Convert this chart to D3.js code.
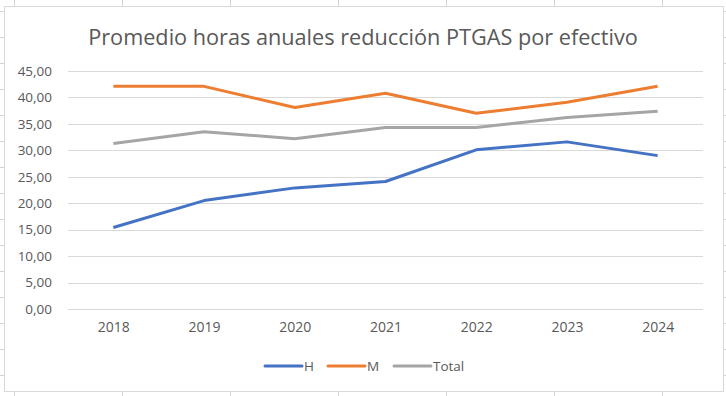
<!DOCTYPE html>
<html lang="es">
<head>
<meta charset="UTF-8">
<title>Promedio horas anuales reducción PTGAS por efectivo</title>
<script src="https://d3js.org/d3.v7.min.js"></script>
<style>
  body { margin: 0; padding: 0; background: #fff; }
  svg { display: block; font-family: "Open Sans", "Noto Sans", sans-serif; }
</style>
</head>
<body>
<svg id="chart" width="726" height="396"></svg>
<script>
  // data
  const years = ["2018", "2019", "2020", "2021", "2022", "2023", "2024"];
  const hValues = [15.4, 20.5, 22.9, 24.1, 30.1, 31.6, 29.0];
  const mValues = [42.1, 42.1, 38.1, 40.8, 37.0, 39.1, 42.1];
  const totalValues = [31.3, 33.5, 32.2, 34.3, 34.3, 36.2, 37.4];
  const yTicks = [0, 5, 10, 15, 20, 25, 30, 35, 40, 45];
  const seriesNames = ["H", "M", "Total"];
  const colors = ["#4472C4", "#ED7D31", "#A5A5A5"];

  const series = [hValues, mValues, totalValues].map((v, i) => ({ name: seriesNames[i], values: v, color: colors[i] }));

  const font = '"Open Sans", "Noto Sans", sans-serif';
  const textColor = "#595959";

  const svg = d3.select("#chart");

  // spreadsheet cells behind the chart
  const sheet = svg.append("g").attr("stroke", "#d4d4d4").attr("stroke-width", 1);
  sheet.selectAll("line.col")
    .data(d3.range(14.5, 726, 108))
    .join("line")
    .attr("x1", d => d).attr("x2", d => d)
    .attr("y1", 0).attr("y2", 396);
  sheet.selectAll("line.row")
    .data(d3.range(11.5, 396, 26))
    .join("line")
    .attr("x1", 0).attr("x2", 726)
    .attr("y1", d => d).attr("y2", d => d);

  // chart area
  svg.append("rect")
    .attr("x", 4.5).attr("y", 6.5)
    .attr("width", 719).attr("height", 385)
    .attr("fill", "#fff")
    .attr("stroke", "#d9d9d9");

  const plot = { left: 68, right: 703, top: 71, bottom: 309 };

  const x = d3.scalePoint()
    .domain(years)
    .range([plot.left, plot.right])
    .padding(0.5);

  const y = d3.scaleLinear()
    .domain([0, 45])
    .range([plot.bottom, plot.top]);

  // gridlines + y labels
  const yAxis = svg.append("g")
    .attr("transform", `translate(${plot.left},0)`)
    .call(d3.axisLeft(y)
      .tickValues(yTicks)
      .tickSize(-(plot.right - plot.left))
      .tickPadding(16)
      .tickFormat(d => d3.format(".2f")(d).replace(".", ",")))
    .attr("font-family", font)
    .attr("font-size", 13.5);
  yAxis.select(".domain").remove();
  yAxis.selectAll(".tick line").attr("stroke", "#d9d9d9").attr("shape-rendering", "crispEdges");
  yAxis.selectAll(".tick text").attr("fill", textColor);

  // x labels
  const xAxis = svg.append("g")
    .attr("transform", `translate(0,${plot.bottom})`)
    .call(d3.axisBottom(x).tickSize(0).tickPadding(13))
    .attr("font-family", font)
    .attr("font-size", 14);
  xAxis.select(".domain").remove();
  xAxis.selectAll(".tick text").attr("fill", textColor);

  // lines
  const line = d3.line()
    .x((d, i) => x(years[i]))
    .y(d => y(d));

  svg.append("g")
    .selectAll("path")
    .data(series)
    .join("path")
    .attr("fill", "none")
    .attr("stroke", d => d.color)
    .attr("stroke-width", 3)
    .attr("stroke-linejoin", "round")
    .attr("d", d => line(d.values));

  // title, fitted to the width it has in the picture
  const title = svg.append("text")
    .attr("x", 363)
    .attr("y", 45)
    .attr("text-anchor", "middle")
    .attr("fill", textColor)
    .style("font-size", "20px")
    .text("Promedio horas anuales reducción PTGAS por efectivo");
  const tw = title.node().getComputedTextLength();
  title.style("font-size", (20 * 550 / tw) + "px");

  // legend
  const legendX = [265, 328, 394];
  const legend = svg.append("g")
    .selectAll("g")
    .data(series)
    .join("g")
    .attr("transform", (d, i) => `translate(${legendX[i]},366)`);
  legend.append("line")
    .attr("x1", 0).attr("x2", 37)
    .attr("stroke", d => d.color)
    .attr("stroke-width", 3)
    .attr("stroke-linecap", "round");
  legend.append("text")
    .attr("x", 39)
    .attr("dy", "0.35em")
    .attr("fill", textColor)
    .style("font-size", "13.5px")
    .text(d => d.name);
</script>
</body>
</html>
